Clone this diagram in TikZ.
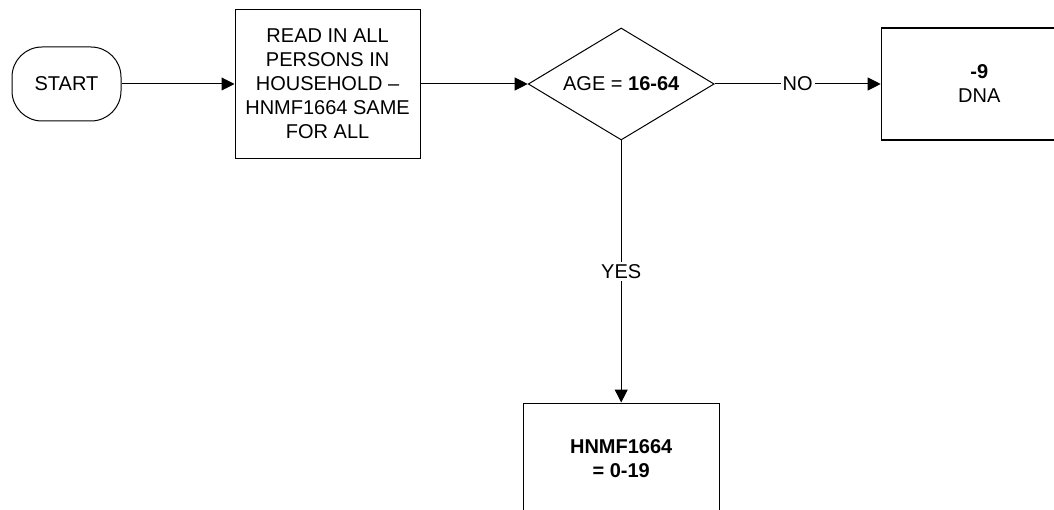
\documentclass[tikz,border=0pt]{standalone}
\usepackage{fontspec}
\setmainfont{Liberation Sans}
\usetikzlibrary{shapes.geometric,arrows.meta,positioning}

\begin{document}
\begin{tikzpicture}[
    >={Triangle[length=6.5pt,width=6.5pt]},
    txt/.style={font=\fontsize{10}{12}\selectfont, align=center},
    termbox/.style={rectangle, draw=black, line width=0.5pt, txt,
                    rounded corners=15pt, minimum width=54.5pt, minimum height=37pt},
    procbox/.style={rectangle, draw=black, line width=0.6pt, txt,
                    minimum width=92.5pt, minimum height=74.5pt, inner sep=1pt},
    outbox/.style={rectangle, draw=black, line width=0.6pt, txt,
                   minimum width=98pt, minimum height=56pt},
    decbox/.style={diamond, draw=black, line width=0.5pt, txt, aspect=1.66,
                   inner sep=0pt, minimum width=93pt, minimum height=56pt},
    flow/.style={->, line width=0.5pt},
    flowlabel/.style={txt, fill=white, inner sep=1pt},
]
\useasboundingbox (0,0) rectangle (527pt,254.5pt);

\node[termbox] (start) at (33.25pt,212.5pt) {START};
\node[procbox,right=56.5pt of start] (readin) {READ IN ALL\\PERSONS IN\\HOUSEHOLD --\\HNMF1664 SAME\\FOR ALL};
\node[decbox,right=53.5pt of readin] (age) {AGE = \textbf{16-64}};
\node[outbox,right=83pt of age] (dna) {\textbf{-9}\\DNA};
\node[outbox,below=131pt of age] (hnmf) {\textbf{HNMF1664}\\\textbf{= 0-19}};

\draw[flow] (start) -- (readin);
\draw[flow] (readin) -- (age);
\draw[flow] (age) -- node[flowlabel] {NO} (dna);
\draw[flow] (age) -- node[flowlabel] {YES} (hnmf);

\end{tikzpicture}
\end{document}
